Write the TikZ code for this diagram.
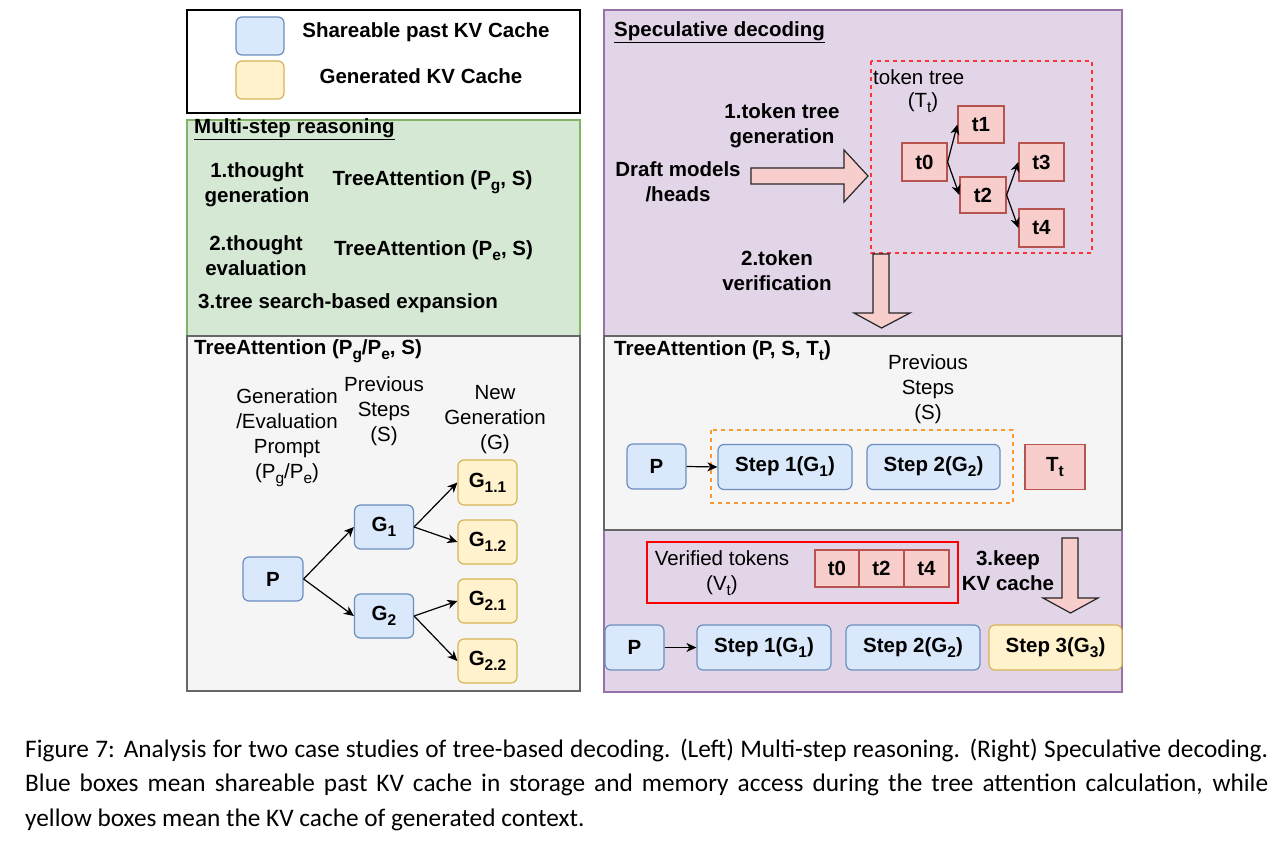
\documentclass[tikz,border=0pt]{standalone}
\usepackage{fontspec}
\setmainfont{Liberation Sans}
\newfontfamily\capfont{Carlito}
\usetikzlibrary{arrows.meta}
\definecolor{bluefill}{HTML}{DAE8FC}
\definecolor{bluebd}{HTML}{6C8EBF}
\definecolor{yelfill}{HTML}{FFF2CC}
\definecolor{yelbd}{HTML}{D6B656}
\definecolor{redfill}{HTML}{F8CECC}
\definecolor{redbd}{HTML}{B85450}
\definecolor{greenfill}{HTML}{D5E8D4}
\definecolor{greenbd}{HTML}{82B366}
\definecolor{grayfill}{HTML}{F5F5F5}
\definecolor{graybd}{HTML}{666666}
\definecolor{purpfill}{HTML}{E1D5E7}
\definecolor{purpbd}{HTML}{9673A6}
\definecolor{dashred}{HTML}{FF3333}
\definecolor{dashorange}{HTML}{FF9933}
\newcommand\dfont{\fontsize{20.5}{25}\selectfont}
\newcommand\cfont{\capfont\fontsize{25.3}{30}\selectfont}
\newcommand\subsc[1]{\raisebox{-5pt}{\fontsize{15.5}{15.5}\selectfont #1}}
\tikzset{
  region/.style={line width=1.3pt},
  bbox/.style={draw=bluebd, fill=bluefill, rounded corners=6pt, line width=1.2pt, font=\dfont\bfseries},
  ybox/.style={draw=yelbd, fill=yelfill, rounded corners=6pt, line width=1.2pt, font=\dfont\bfseries},
  tbox/.style={draw=redbd, fill=redfill, line width=1.2pt, font=\dfont\bfseries},
  sz/.style 2 args={minimum width=#1, minimum height=#2},
  lbl/.style={align=center, font=\dfont},
  blbl/.style={align=center, font=\dfont\bfseries},
  arr/.style={-{Stealth[length=10pt,width=9pt,inset=3pt]}, line width=1.2pt, black},
  bigarrow/.style={fill=redfill, draw=black!85, line width=1.2pt, line join=miter},
}
\begin{document}
\begin{tikzpicture}[x=1pt,y=-1pt, every node/.style={inner sep=0pt}]
\fill[white] (0,0) rectangle (1277,845);
\useasboundingbox (0,0) rectangle (1277,845);

% ---------------- regions ----------------
\draw[greenbd, fill=greenfill, region] (187,120) rectangle (580,336);
\draw[graybd, fill=grayfill, region] (187,336) rectangle (580,691);
\draw[purpbd, fill=purpfill, region] (604,10) rectangle (1122,336);
\draw[purpbd, fill=purpfill, region] (604,530) rectangle (1122,692);
\draw[graybd, fill=grayfill, region] (604,336) rectangle (1122,530);
\draw[black, line width=1.5pt] (187,10) rectangle (580,113);

% ---------------- legend ----------------
\node[bbox, sz={48pt}{38pt}] (legblue) at (260,36) {};
\node[ybox, sz={48pt}{38pt}] (legyel) at (260,80) {};
\node[blbl] (legbluetxt) at (426,32) {Shareable past KV Cache};
\node[blbl] (legyeltxt) at (421,76) {Generated KV Cache};

% ---------------- multi-step reasoning ----------------
\node[blbl, anchor=west] (msr) at (194,129) {\underline{Multi-step reasoning}};
\node[blbl] (step1) at (257,184.5) {1.thought\\generation};
\node[blbl] (ta1) at (432.5,182) {TreeAttention (P\subsc{g}, S)};
\node[blbl] (step2) at (256,256) {2.thought\\evaluation};
\node[blbl] (ta2) at (433.5,251) {TreeAttention (P\subsc{e}, S)};
\node[blbl, anchor=west] (step3) at (198,303) {3.tree search-based expansion};

\node[blbl, anchor=west] (ta3) at (194,351) {TreeAttention (P\subsc{g}/P\subsc{e}, S)};
\node[lbl] (gep) at (287,438) {Generation\\/Evaluation\\Prompt\\(P\subsc{g}/P\subsc{e})};
\node[lbl] (prevL) at (384,411) {Previous\\Steps\\(S)};
\node[lbl] (newg) at (495,420) {New\\Generation\\(G)};

\node[bbox, sz={60pt}{44pt}] (PL) at (273,579) {P};
\node[bbox, sz={59pt}{44pt}] (G1) at (384,527) {G\subsc{1}};
\node[bbox, sz={59pt}{44pt}] (G2) at (384,616) {G\subsc{2}};
\node[ybox, sz={59pt}{45pt}] (G11) at (487.5,482.5) {G\subsc{1.1}};
\node[ybox, sz={59pt}{44pt}] (G12) at (487.5,542) {G\subsc{1.2}};
\node[ybox, sz={59pt}{44pt}] (G21) at (487.5,601) {G\subsc{2.1}};
\node[ybox, sz={59pt}{44pt}] (G22) at (487.5,661) {G\subsc{2.2}};
\draw[arr] (PL.east) -- (G1.west);
\draw[arr] (PL.east) -- (G2.west);
\draw[arr] (G1.east) -- (G11.west);
\draw[arr] (G1.east) -- (G12.west);
\draw[arr] (G2.east) -- (G21.west);
\draw[arr] (G2.east) -- (G22.west);

% ---------------- speculative decoding ----------------
\node[blbl, anchor=west] (spd) at (614,32) {\underline{Speculative decoding}};
\draw[dashred, line width=1.2pt, dash pattern=on 4pt off 4pt] (871,61) rectangle (1092,253);
\node[lbl, anchor=west] (tt) at (873,77) {token tree};
\node[lbl] (ttsym) at (923,103) {(T\subsc{t})};
\node[tbox, sz={45pt}{38pt}] (t0) at (924.5,162) {t0};
\node[tbox, sz={46pt}{37pt}] (t1) at (981,124.5) {t1};
\node[tbox, sz={46pt}{36pt}] (t2) at (983,195) {t2};
\node[tbox, sz={45pt}{38pt}] (t3) at (1041.5,162) {t3};
\node[tbox, sz={45pt}{38pt}] (t4) at (1041.5,228) {t4};
\draw[arr] (t0.east) -- (t1.west);
\draw[arr] (t0.east) -- (t2.west);
\draw[arr] (t2.east) -- (t3.west);
\draw[arr] (t2.east) -- (t4.west);

\node[blbl] (gen) at (782,125.5) {1.token tree\\generation};
\node[blbl] (draft) at (678,181.5) {Draft models\\/heads};
\draw[bigarrow] (751,168) -- (844,168) -- (844,150) -- (868,176) -- (844,202) -- (844,184) -- (751,184) -- cycle;
\node[blbl] (verif) at (777,270.5) {2.token\\verification};
\draw[bigarrow] (873,254) -- (889,254) -- (889,313) -- (910,313) -- (881.5,328) -- (854,313) -- (873,313) -- cycle;

% ---------------- tree attention right ----------------
\node[blbl, anchor=west] (ta4) at (614,351) {TreeAttention (P, S, T\subsc{t})};
\node[lbl] (prevR) at (928,389) {Previous\\Steps\\(S)};
\draw[dashorange, line width=1.2pt, dash pattern=on 4pt off 4pt] (711,430) rectangle (1013,503);
\node[bbox, sz={59pt}{45pt}] (PR) at (656.5,466.5) {P};
\node[bbox, sz={134pt}{45pt}] (S1) at (785,467) {Step 1(G\subsc{1})};
\node[bbox, sz={133pt}{45pt}] (S2) at (933.5,467) {Step 2(G\subsc{2})};
\node[tbox, sz={60pt}{45pt}] (Tt) at (1055,467) {T\subsc{t}};
\draw[arr] (PR.east) -- (S1.west);

% ---------------- keep KV cache ----------------
\draw[red, line width=1.2pt] (647,542) rectangle (958,603);
\node[lbl] (vt) at (722,573) {Verified tokens\\(V\subsc{t})};
\node[tbox, sz={44pt}{37pt}] (v0) at (837,568.5) {t0};
\node[tbox, sz={45pt}{37pt}] (v2) at (881.5,568.5) {t2};
\node[tbox, sz={45pt}{37pt}] (v4) at (926.5,568.5) {t4};
\node[blbl] (keep) at (1008,571) {3.keep\\KV cache};
\draw[bigarrow] (1062,538) -- (1078,538) -- (1078,598) -- (1098,598) -- (1070.5,613) -- (1043,598) -- (1062,598) -- cycle;

\node[bbox, sz={59pt}{45pt}] (PB) at (634.5,647.5) {P};
\node[bbox, sz={134pt}{45pt}] (S1B) at (764,647.5) {Step 1(G\subsc{1})};
\node[bbox, sz={134pt}{45pt}] (S2B) at (913,647.5) {Step 2(G\subsc{2})};
\node[ybox, sz={133pt}{45pt}] (S3B) at (1055.5,647.5) {Step 3(G\subsc{3})};
\draw[arr] (PB.east) -- (S1B.west);

% ---------------- caption ----------------
\node[anchor=west, font=\cfont] (cap1) at (25,750) {\makebox[1243pt][s]{Figure 7: Analysis for two case studies of tree-based decoding. (Left) Multi-step reasoning. (Right) Speculative decoding.}};
\node[anchor=west, font=\cfont] (cap2) at (25,785) {\makebox[1243pt][s]{Blue boxes mean shareable past KV cache in storage and memory access during the tree attention calculation, while}};
\node[anchor=west, font=\cfont] (cap3) at (25,820) {yellow boxes mean the KV cache of generated context.};
\end{tikzpicture}
\end{document}
